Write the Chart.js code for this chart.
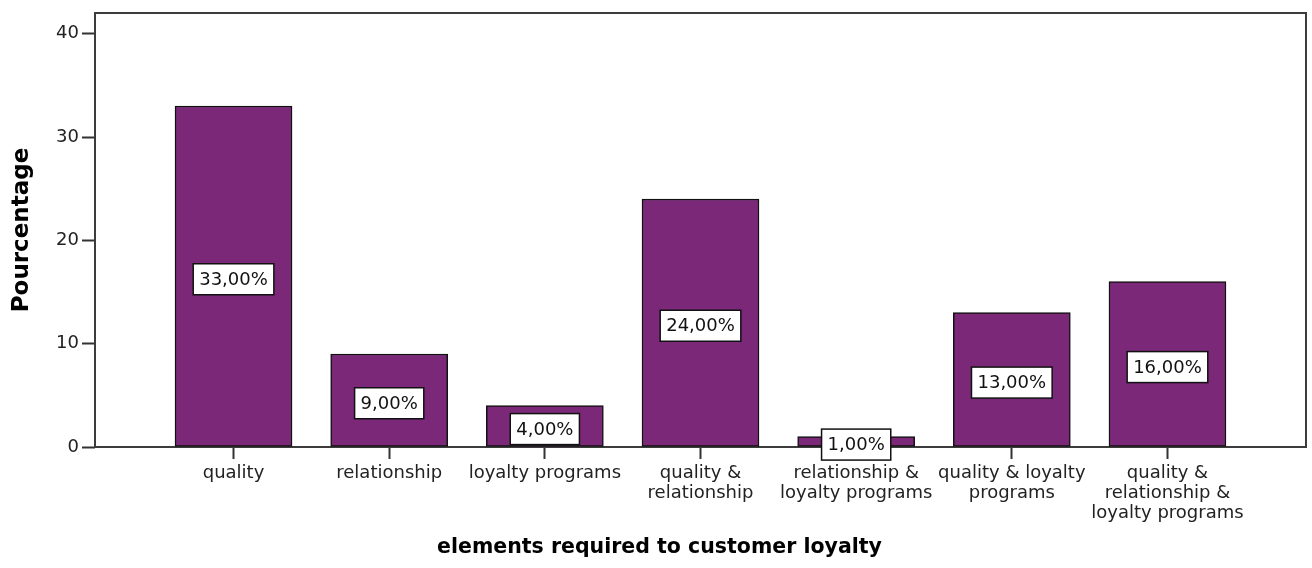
<!DOCTYPE html>
<html>
<head>
<meta charset="utf-8">
<script src="https://cdn.jsdelivr.net/npm/chart.js@4"></script>
<style>
  html, body { margin: 0; padding: 0; background: #fff; }
  canvas { display: block; }
</style>
</head>
<body>
<canvas id="canvas" width="1312" height="568"></canvas>
<script>
const categories = [
    ['quality'],
    ['relationship'],
    ['loyalty programs'],
    ['quality &', 'relationship'],
    ['relationship &', 'loyalty programs'],
    ['quality & loyalty', 'programs'],
    ['quality &', 'relationship &', 'loyalty programs']
];
const percentages = [33, 9, 4, 24, 1, 13, 16];
const yTicks = [0, 10, 20, 30, 40];

const barColor = '#7b2878';
const tickFont = { family: 'DejaVu Sans', size: 18, lineHeight: '20px' };

// box around the plot area
const framePlugin = {
    id: 'frame',
    beforeDatasetsDraw(chart) {
        const a = chart.chartArea;
        const ctx = chart.ctx;
        ctx.save();
        ctx.strokeStyle = '#3c3c3c';
        ctx.lineWidth = 2;
        ctx.strokeRect(a.left, a.top, a.right - a.left, a.bottom - a.top);
        ctx.restore();
    }
};

// "33,00%" boxes in the middle of every bar
const valueBoxPlugin = {
    id: 'valueBoxes',
    afterDatasetsDraw(chart) {
        const ctx = chart.ctx;
        const meta = chart.getDatasetMeta(0);
        ctx.save();
        ctx.font = '18px "DejaVu Sans"';
        ctx.textAlign = 'center';
        ctx.textBaseline = 'middle';
        meta.data.forEach((bar, i) => {
            const text = percentages[i].toFixed(2).replace('.', ',') + '%';
            const cx = bar.x;
            const cy = (bar.y + bar.base) / 2 + 3;
            const w = ctx.measureText(text).width + 12;
            const h = 31;
            ctx.fillStyle = '#fff';
            ctx.fillRect(cx - w / 2, cy - h / 2, w, h);
            ctx.strokeStyle = '#111';
            ctx.lineWidth = 1.5;
            ctx.strokeRect(cx - w / 2, cy - h / 2, w, h);
            ctx.fillStyle = '#111';
            ctx.fillText(text, cx, cy + 1);
        });
        ctx.restore();
    }
};

const data = {
    datasets: [{
        label: 'Pourcentage',
        data: percentages.map((v, i) => ({ x: i, y: v })),
        backgroundColor: barColor,
        borderColor: '#111',
        borderWidth: 1.5,
        borderSkipped: false,
        barThickness: 117
    }]
};

const config = {
    type: 'bar',
    data: data,
    plugins: [framePlugin, valueBoxPlugin],
    options: {
        responsive: false,
        animation: false,
        layout: { padding: { top: 13, right: 6, left: 13, bottom: 0 } },
        plugins: {
            legend: { display: false },
            tooltip: { enabled: false },
            title: {
                display: true,
                position: 'bottom',
                text: 'elements required to customer loyalty',
                color: '#000',
                font: { family: 'DejaVu Sans', size: 20.5, weight: 'bold', lineHeight: '24px' },
                padding: { top: 0, bottom: 8 }
            }
        },
        scales: {
            x: {
                type: 'linear',
                min: -0.89,
                max: 6.89,
                offset: false,
                afterBuildTicks(scale) {
                    scale.ticks = categories.map((c, i) => ({ value: i }));
                },
                afterFit(scale) { scale.height = 89; },
                grid: {
                    offset: false,
                    drawOnChartArea: false,
                    drawTicks: true,
                    tickLength: 12,
                    tickColor: '#333',
                    tickWidth: 2
                },
                border: { display: false },
                ticks: {
                    autoSkip: false,
                    maxRotation: 0,
                    padding: 4,
                    color: '#222',
                    font: tickFont,
                    callback: (value) => categories[Math.round(value)]
                }
            },
            y: {
                min: 0,
                max: 42,
                afterBuildTicks(scale) {
                    scale.ticks = yTicks.map(v => ({ value: v }));
                },
                afterFit(scale) { scale.width = 82; },
                grid: {
                    drawOnChartArea: false,
                    drawTicks: true,
                    tickLength: 13,
                    tickColor: '#333',
                    tickWidth: 2
                },
                border: { display: false },
                ticks: {
                    padding: 3,
                    color: '#222',
                    font: tickFont
                },
                title: {
                    display: true,
                    text: 'Pourcentage',
                    color: '#000',
                    font: { family: 'DejaVu Sans', size: 23, weight: 'bold', lineHeight: '18px' },
                    padding: 0
                }
            }
        }
    }
};

var canvas = document.getElementById('canvas');
const chart = new Chart(canvas, config);
</script>
</body>
</html>
